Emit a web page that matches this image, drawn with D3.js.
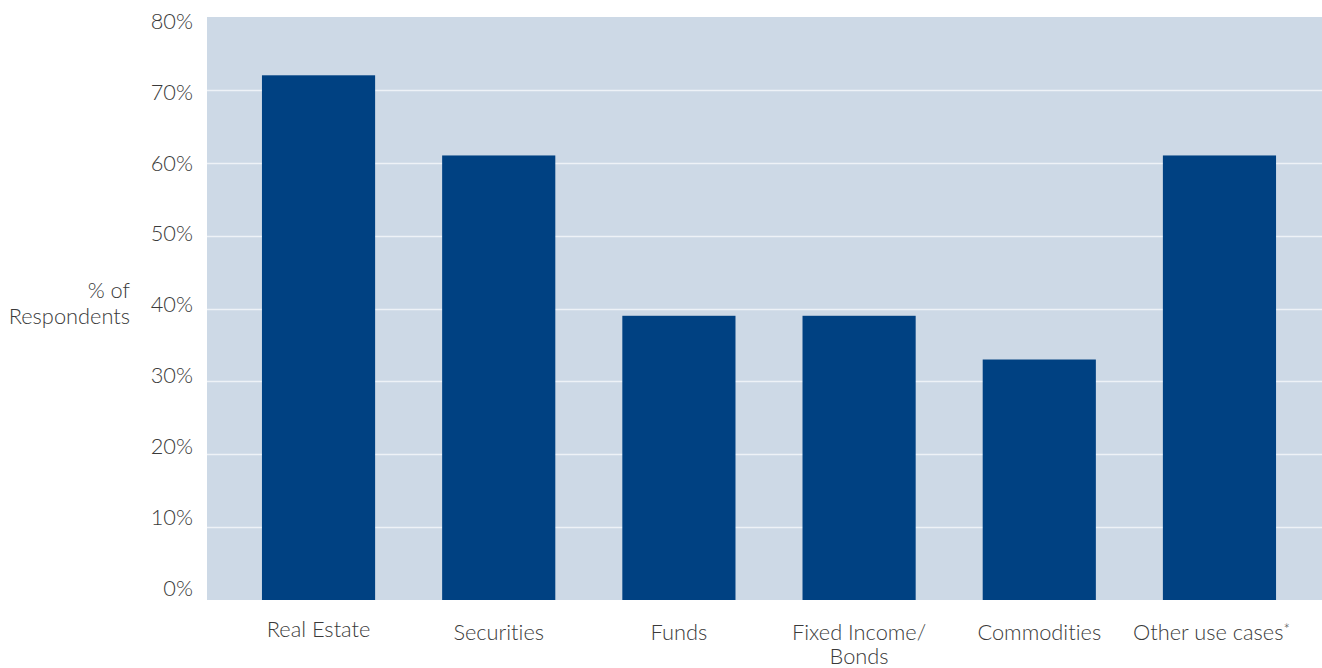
<!DOCTYPE html>
<html>
<head>
<meta charset="utf-8">
<script src="https://cdn.jsdelivr.net/npm/d3@7"></script>
<style>
  html, body { margin: 0; padding: 0; background: #fff; }
  svg { display: block; font-family: Lato, "Open Sans", sans-serif; font-weight: 300;
        font-variant-ligatures: none; font-feature-settings: "liga" 0; }
</style>
</head>
<body>
<svg id="chart" width="1322" height="668"></svg>
<script>
// Share of respondents by asset class
const categories = ["Real Estate", "Securities", "Funds", "Fixed Income/\nBonds", "Commodities", "Other use cases*"];
const shares = [72, 61, 39, 39, 33, 61];
const yTicks = [0, 10, 20, 30, 40, 50, 60, 70, 80];

const plot = { left: 207, top: 17, bottom: 600, right: 1322 };
const textColor = "#3a3a3a";
const fontSize = 21.8;

const svg = d3.select("#chart");

const x = d3.scaleBand()
  .domain(categories)
  .range([plot.left, 1331])
  .paddingInner(0.372)
  .paddingOuter(0.305);

const y = d3.scaleLinear()
  .domain([0, 80])
  .range([plot.bottom, plot.top]);

// tick labels are laid out on their own slightly tighter column
const yLabel = d3.scaleLinear()
  .domain([0, 80])
  .range([587.5, 20.5]);

// plot background
svg.append("rect")
  .attr("x", plot.left)
  .attr("y", plot.top)
  .attr("width", plot.right - plot.left)
  .attr("height", plot.bottom - plot.top)
  .attr("fill", "#cdd9e6");

// horizontal gridlines
svg.append("g")
  .selectAll("line")
  .data(yTicks.filter(d => d > 0 && d < 80))
  .join("line")
  .attr("x1", plot.left)
  .attr("x2", plot.right)
  .attr("y1", d => Math.round(y(d)) + 0.5)
  .attr("y2", d => Math.round(y(d)) + 0.5)
  .attr("stroke", "#eef2f7")
  .attr("stroke-width", 1.5);

// bars
svg.append("g")
  .selectAll("rect")
  .data(categories.map((c, i) => ({ c, v: shares[i] })))
  .join("rect")
  .attr("x", d => x(d.c))
  .attr("width", x.bandwidth())
  .attr("y", d => y(d.v))
  .attr("height", d => y(0) - y(d.v))
  .attr("fill", "#004182");

// y axis labels
const yAxis = d3.axisLeft(yLabel)
  .tickValues(yTicks)
  .tickFormat(d => d + "%")
  .tickSize(0)
  .tickPadding(14);

const gy = svg.append("g")
  .attr("transform", `translate(${plot.left},0)`)
  .call(yAxis);
gy.select(".domain").remove();
gy.selectAll("text")
  .attr("font-family", "Lato, sans-serif")
  .attr("font-weight", 300)
  .attr("font-size", fontSize)
  .attr("fill", textColor)
  .attr("dy", "0.36em");

// x axis
const xAxis = d3.axisBottom(x).tickSize(0).tickPadding(0);
const gx = svg.append("g")
  .attr("transform", `translate(0,${plot.bottom})`)
  .call(xAxis);
gx.select(".domain").remove();
gx.selectAll(".tick text").each(function(d, i) {
  const t = d3.select(this);
  const lines = d.split("\n");
  const footnoted = d.endsWith("*");
  const shift = footnoted ? -8 : 0;
  t.text(null)
    .attr("x", shift)
    .attr("y", i === 0 ? 36.5 : 40)
    .attr("dy", 0)
    .attr("font-family", "Lato, sans-serif")
    .attr("font-weight", 300)
    .attr("font-size", fontSize)
    .attr("fill", textColor);
  lines.forEach((ln, k) => {
    const tx = footnoted ? ln.slice(0, -1) : ln;
    t.append("tspan").attr("x", shift).attr("dy", k === 0 ? 0 : 24).text(tx);
    if (footnoted) {
      // footnote marker, set small and raised
      t.append("tspan").attr("font-size", 15).attr("dy", -5).text("*");
    }
  });
});

// y axis title
const title = svg.append("text")
  .attr("text-anchor", "end")
  .attr("font-family", "Lato, sans-serif")
  .attr("font-weight", 300)
  .attr("font-size", fontSize)
  .attr("fill", textColor);
title.append("tspan").attr("x", 130).attr("y", 298).text("% of");
title.append("tspan").attr("x", 130).attr("y", 324).text("Respondents");
</script>
</body>
</html>
